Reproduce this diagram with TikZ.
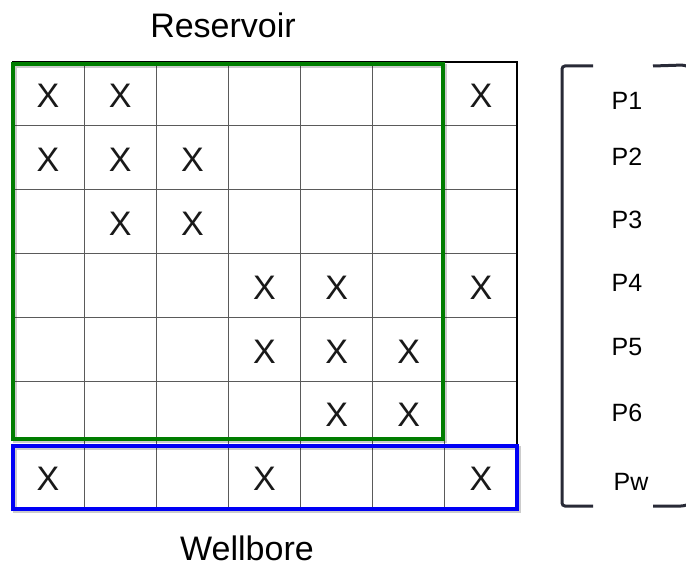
\documentclass[tikz,border=0pt]{standalone}
\usepackage{fontspec}
\setmainfont{Liberation Sans}
\definecolor{gridgray}{RGB}{90,90,90}
\definecolor{resgreen}{RGB}{0,125,0}
\definecolor{wellblue}{RGB}{0,0,245}
\definecolor{brackcol}{RGB}{40,42,55}
\tikzset{
  xmark/.style={font=\fontsize{34}{34}\selectfont, text=black!90, inner sep=0pt},
  plabel/.style={font=\fontsize{25}{25}\selectfont, inner sep=0pt},
  title/.style={font=\fontsize{34}{34}\selectfont, inner sep=0pt},
  gridline/.style={draw=gridgray, line width=1.1pt},
  region/.style={line width=4pt},
  regshadow/.style={line width=4pt, draw=black, opacity=0.2},
  brack/.style={draw=brackcol, line width=3pt, rounded corners=3pt}
}
\begin{document}
\begin{tikzpicture}[x=1pt,y=-1pt]
\useasboundingbox[fill=white] (0,0) rectangle (686,567);
% grid
\foreach \i in {1,...,6} {
  \draw[gridline] ({12+\i*72.14},62) -- ({12+\i*72.14},509);
  \draw[gridline] (12,{62+\i*63.86}) -- (517,{62+\i*63.86});
}
\draw[black, line width=2pt] (12,62) -- (517,62) -- (517,509);
% regions
\draw[regshadow] (15,66) rectangle (445,441);
\draw[region, draw=resgreen] (13,64) rectangle (443,439);
\draw[regshadow] (15,448) rectangle (519,511);
\draw[region, draw=wellblue] (13,446) rectangle (517,509);
% X marks
\foreach \r/\c [count=\k] in {1/1,1/2,1/7,2/1,2/2,2/3,3/2,3/3,4/4,4/5,4/7,5/4,5/5,5/6,6/5,6/6,7/1,7/4,7/7} {
  \node[xmark] (x\k) at ({12+(\c-0.5)*72.14},{62+(\r-0.5)*63.86+2}) {X};
}
% titles
\node[title] (res) at (223,25) {Reservoir};
\node[title] (well) at (247,548) {Wellbore};
% bracket
\draw[brack] (593,66) -- (562,66) -- (562,506) -- (593,506);
\draw[brack] (653,66) -- (684,65) -- (689,67);
\draw[brack] (653,506) -- (684,506) -- (689,504);
% labels
\node[plabel] (p1) at (627,101) {P1};
\node[plabel] (p2) at (627,157) {P2};
\node[plabel] (p3) at (627,220) {P3};
\node[plabel] (p4) at (627,283) {P4};
\node[plabel] (p5) at (627,347) {P5};
\node[plabel] (p6) at (627,413) {P6};
\node[plabel] (pw) at (631,482) {Pw};
\end{tikzpicture}
\end{document}
